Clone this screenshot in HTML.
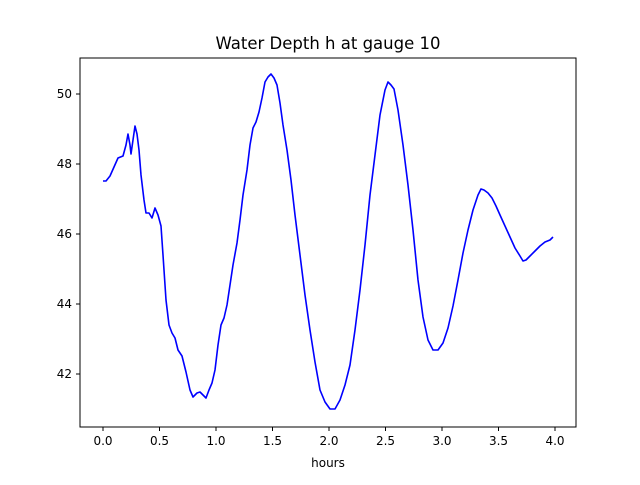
<!DOCTYPE html>
<html><head><meta charset="utf-8"><style>body{margin:0;background:#fff}</style></head><body>
<svg width="640" height="480" xmlns="http://www.w3.org/2000/svg" font-family="DejaVu Sans, sans-serif">
<rect width="640" height="480" fill="#fff"/>
<text x="328" y="49" font-size="16.5" text-anchor="middle">Water Depth h at gauge 10</text>
<g stroke="#000" stroke-width="1">
<line x1="103" y1="427" x2="103" y2="431"/><line x1="159.5" y1="427" x2="159.5" y2="431"/><line x1="216" y1="427" x2="216" y2="431"/><line x1="272.5" y1="427" x2="272.5" y2="431"/><line x1="329" y1="427" x2="329" y2="431"/><line x1="385.5" y1="427" x2="385.5" y2="431"/><line x1="442" y1="427" x2="442" y2="431"/><line x1="498.5" y1="427" x2="498.5" y2="431"/><line x1="555" y1="427" x2="555" y2="431"/>
<line x1="76" y1="94" x2="80" y2="94"/><line x1="76" y1="164" x2="80" y2="164"/><line x1="76" y1="234" x2="80" y2="234"/><line x1="76" y1="304" x2="80" y2="304"/><line x1="76" y1="374" x2="80" y2="374"/>
</g>
<g font-size="12" text-anchor="middle">
<text x="103" y="445">0.0</text><text x="159.5" y="445">0.5</text><text x="216" y="445">1.0</text><text x="272.5" y="445">1.5</text><text x="329" y="445">2.0</text><text x="385.5" y="445">2.5</text><text x="442" y="445">3.0</text><text x="498.5" y="445">3.5</text><text x="555" y="445">4.0</text>
<text x="328" y="467">hours</text>
</g>
<g font-size="12" text-anchor="end">
<text x="72" y="98">50</text><text x="72" y="168">48</text><text x="72" y="238">46</text><text x="72" y="308">44</text><text x="72" y="378">42</text>
</g>
<polyline fill="none" stroke="#0000ff" stroke-width="1.6" stroke-linejoin="round" points="103,181 106,181 110,176 114,167 118,158 123,156 126,145 128,134 130,145 131,154 133,140 135,126 137,134 139,150 141,175 144,200 146,213 149,213 152,218 155,208 158,215 161,226 163,255 166,300 169,325 172,333 175,338 178,350 182,356 186,372 190,390 193,397 197,393 200,392 203,395 206,398 209,390 212,383 215,370 218,345 221,325 224,318 227,305 230,285 233,265 237,243 240,220 243,195 247,170 250,145 253,128 256,122 259,112 262,98 265,82 268,77 271,74 274,78 277,85 280,103 283,125 287,150 291,180 295,215 300,255 305,295 310,330 315,362 320,390 325,402 330,409 335,409 340,400 345,385 350,365 355,330 360,290 365,245 370,195 375,155 380,115 385,90 388,82 391,85 394,89 398,110 403,145 408,185 413,230 418,280 423,317 428,340 433,350 438,350 443,343 448,328 453,306 458,280 463,253 468,230 473,210 478,195 481,189 484,190 488,193 492,198 496,206 500,215 505,226 510,237 515,248 520,256 523,261 526,260 530,256 535,251 540,246 545,242 550,240 553,237"/>
<rect x="80" y="58" width="496" height="369" fill="none" stroke="#000" stroke-width="1"/>
</svg>
</body></html>
